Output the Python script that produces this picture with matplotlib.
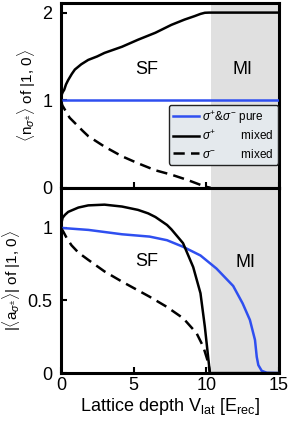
import matplotlib
matplotlib.use("Agg")
import matplotlib.pyplot as plt
from matplotlib.lines import Line2D

plt.rcParams['font.family'] = ['Liberation Sans', 'DejaVu Sans']
plt.rcParams['mathtext.fontset'] = 'custom'
plt.rcParams['mathtext.rm'] = 'Liberation Sans'
plt.rcParams['mathtext.it'] = 'Liberation Sans:italic'
plt.rcParams['mathtext.sf'] = 'Liberation Sans'

# ---- data ----
mi_start = 10.3
xlim = (0, 15)

# top panel: occupation numbers
v_npure = [0, 15]
n_pure = [1.0, 1.0]

v_nplus = [0, 0.05, 0.12, 0.23, 0.35, 0.5, 0.75, 0.96, 1.4, 1.88, 2.5, 3.0, 4.2, 5.3, 6.5, 7.6, 8.5, 9.2, 9.6, 9.9, 10.2, 15]
n_plus = [1.0, 1.06, 1.09, 1.12, 1.18, 1.23, 1.30, 1.35, 1.41, 1.46, 1.50, 1.54, 1.61, 1.69, 1.77, 1.86, 1.92, 1.96, 1.985, 1.998, 2.0, 2.0]

v_nminus = [0, 0.1, 0.28, 0.6, 0.96, 1.5, 1.88, 3.0, 4.2, 5.3, 6.5, 7.6, 8.7, 9.5, 9.9, 10.3]
n_minus = [1.0, 0.94, 0.89, 0.80, 0.74, 0.65, 0.59, 0.47, 0.36, 0.28, 0.20, 0.15, 0.09, 0.04, 0.015, 0.0]

# bottom panel: condensate amplitudes
v_apure = [0, 1.9, 4.2, 6.1, 7.3, 8.4, 9.6, 10.7, 11.85, 12.5, 13.0, 13.35, 13.47, 13.58, 13.81, 14.16, 15]
a_pure = [1.0, 0.986, 0.956, 0.94, 0.915, 0.87, 0.81, 0.72, 0.60, 0.48, 0.366, 0.228, 0.112, 0.055, 0.016, 0.002, 0.0]

v_aplus = [0, 0.05, 0.12, 0.28, 0.5, 0.73, 1.2, 1.88, 3.0, 4.2, 5.3, 6.0, 6.5, 7.3, 7.6, 8.4, 9.1, 9.6, 9.9, 10.15, 10.25, 15]
a_plus = [1.0, 1.04, 1.07, 1.09, 1.11, 1.12, 1.14, 1.155, 1.16, 1.147, 1.124, 1.10, 1.075, 1.02, 0.99, 0.895, 0.73, 0.55, 0.32, 0.09, 0.0, 0.0]

v_aminus = [0, 0.16, 0.4, 0.73, 1.2, 1.88, 3.0, 4.2, 6.1, 7.27, 8.42, 9.33, 9.8, 10.14, 10.25]
a_minus = [1.0, 0.975, 0.93, 0.88, 0.83, 0.78, 0.70, 0.63, 0.526, 0.457, 0.377, 0.275, 0.18, 0.07, 0.0]

legend_labels = [r'$\sigma^{+}$&$\sigma^{-}$ pure', r'$\sigma^{+}$        mixed', r'$\sigma^{-}$        mixed']

blue = '#2f4ff0'
lw = 1.8
dash = (4.5, 2.5)

fig = plt.figure(figsize=(2.9, 4.23), dpi=100)
ax1 = fig.add_axes([0.210, 0.556, 0.752, 0.437])
ax2 = fig.add_axes([0.210, 0.118, 0.752, 0.438])

for ax in (ax1, ax2):
    ax.axvspan(mi_start, xlim[1], color='#e0e0e0', zorder=0, lw=0)
    ax.set_xlim(*xlim)
    for s in ax.spines.values():
        s.set_linewidth(2.2)
    ax.tick_params(direction='in', width=1.5, length=4, labelsize=13)
    ax.tick_params(axis='y', pad=6)
    ax.tick_params(axis='x', pad=3)

# top
ax1.plot(v_npure, n_pure, color=blue, lw=lw, zorder=3)
ax1.plot(v_nplus, n_plus, color='black', lw=lw, zorder=3)
ax1.plot(v_nminus, n_minus, color='black', lw=lw, dashes=dash, zorder=3)
ax1.set_ylim(0, 2.11)
ax1.set_yticks([0, 1, 2])
ax1.set_xticks([0, 5, 10, 15])
ax1.tick_params(labelbottom=False)
ax1.set_ylabel(r'$\langle$n$_{\sigma^{\pm}}\rangle$ of $|$1, 0$\rangle$', fontsize=11, labelpad=3)
ax1.text(5.9, 1.35, 'SF', fontsize=13, ha='center', va='center')
ax1.text(12.5, 1.35, 'MI', fontsize=13, ha='center', va='center')

handles = [Line2D([], [], color=blue, lw=lw),
           Line2D([], [], color='black', lw=lw),
           Line2D([], [], color='black', lw=lw, dashes=dash)]
leg = ax1.legend(handles, legend_labels, loc='upper right', bbox_to_anchor=(0.995, 0.45),
                 fontsize=8.5, frameon=True, fancybox=True, handlelength=2.2,
                 handletextpad=0.3, labelspacing=0.35, borderpad=0.35, borderaxespad=0)
leg.get_frame().set_facecolor('#e4e9ed')
leg.get_frame().set_edgecolor('#222222')
leg.get_frame().set_alpha(1)
leg.get_frame().set_linewidth(1.0)

# bottom
ax2.plot(v_apure, a_pure, color=blue, lw=lw, zorder=3)
ax2.plot(v_aplus, a_plus, color='black', lw=lw, zorder=3)
ax2.plot(v_aminus, a_minus, color='black', lw=lw, dashes=dash, zorder=3)
ax2.set_ylim(0, 1.276)
ax2.set_yticks([0, 0.5, 1])
ax2.set_yticklabels(['0', '0.5', '1'])
ax2.set_xticks([0, 5, 10, 15])
ax2.set_ylabel(r'$|\langle$a$_{\sigma^{\pm}}\rangle|$ of $|$1, 0$\rangle$', fontsize=11, labelpad=3)
ax2.set_xlabel(r'Lattice depth V$_{\mathrm{lat}}$ [E$_{\mathrm{rec}}$]', fontsize=13, labelpad=1)
ax2.text(5.9, 0.77, 'SF', fontsize=13, ha='center', va='center')
ax2.text(12.7, 0.76, 'MI', fontsize=13, ha='center', va='center')

fig.savefig('out.png', dpi=100)
